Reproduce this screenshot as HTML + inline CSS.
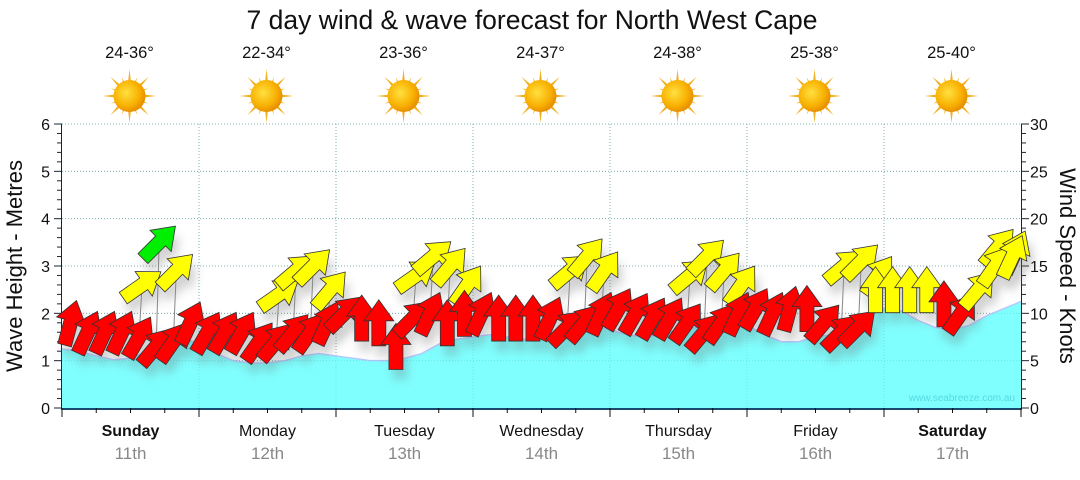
<!DOCTYPE html>
<html><head><meta charset="utf-8">
<style>
body{margin:0;background:#fff;width:1080px;height:475px;overflow:hidden;font-family:"Liberation Sans","DejaVu Sans",sans-serif}
</style></head>
<body>
<svg id="chart" width="1080" height="475" viewBox="0 0 1080 475" xmlns="http://www.w3.org/2000/svg">
<defs>
<radialGradient id="sunG" cx="0.4" cy="0.4" r="0.6"><stop offset="0" stop-color="#ffe040"/><stop offset="0.7" stop-color="#f8b000"/><stop offset="1" stop-color="#e89000"/></radialGradient>
<filter id="shadow" x="-50%" y="-50%" width="200%" height="200%"><feGaussianBlur stdDeviation="5"/></filter>
</defs>
<text x="532" y="29" text-anchor="middle" font-size="26.5" fill="#111">7 day wind &amp; wave forecast for North West Cape</text>
<g id="topG"></g>
<g id="grid"></g>
<g id="wave"></g>
<g id="axes"></g>
<g id="shadows" opacity="0.3"></g>
<g id="arrows"></g>
<text x="1015" y="401" text-anchor="end" font-size="10" fill="#55d8e0">www.seabreeze.com.au</text>
<text transform="translate(22,266) rotate(-90)" text-anchor="middle" font-size="22" fill="#111">Wave Height - Metres</text>
<text transform="translate(1060,266) rotate(90)" text-anchor="middle" font-size="22" fill="#111">Wind Speed - Knots</text>
</svg>
<script>
const days = ["Sunday","Monday","Tuesday","Wednesday","Thursday","Friday","Saturday"];
const dates = ["11th","12th","13th","14th","15th","16th","17th"];
const temps = ["24-36°","22-34°","23-36°","24-37°","24-38°","25-38°","25-40°"];
const waveTicks = [0,1,2,3,4,5,6];
const windTicks = [0,5,10,15,20,25,30];
const waveHeights = [1.25,1.2,1.1,1.02,1.05,1.2,1.35,1.5,1.35,1.15,1.0,0.95,0.95,1.0,1.1,1.15,1.1,1.05,1.0,1.0,1.05,1.15,1.35,1.45,1.5,1.55,1.5,1.45,1.45,1.55,1.65,1.75,1.65,1.55,1.5,1.55,1.65,1.7,1.75,1.7,1.75,1.55,1.4,1.4,1.5,1.55,1.75,1.95,2.1,2.05,1.85,1.7,1.65,1.75,1.95,2.1,2.25];
const windSpeeds = [9,8,8,8,7.5,6.5,7,9, 8,8,8,7,7,8,8,9, 10,9.5,9,6.5,9.5,10,9,10, 10,9.5,9.5,9.5,9.5,8.5,9,10, 10.5,10,9.5,9.5,9,8,9,10, 10.5,10,10.5,10.5,9,8,8.5,12.5, 12.5,12.5,12.5,11,10,12.5,15,16];
const windDirs = [15,25,25,25,30,40,35,25, 30,30,30,35,40,40,35,25, 45,0,0,0,45,25,0,0, 25,0,0,0,25,45,40,25, 30,30,30,30,35,40,35,25, 30,25,15,0,40,45,45,0, 0,0,0,0,35,40,35,25];
const gustSpeeds = [null,null,null,null,13,17.5,14.5,null, null,null,null,null,12,14.5,15,12.5, null,null,null,null,14,16,15,13, null,null,null,null,null,14.5,16,14.5, null,null,null,null,14,16,14.5,13, null,null,null,null,null,15,15.5,14, null,null,null,null,null,null,17,16.5];
const gustDirs = [null,null,null,null,55,45,45,null, null,null,null,null,55,50,45,40, null,null,null,null,55,50,40,35, null,null,null,null,null,50,40,35, null,null,null,null,50,45,40,35, null,null,null,null,null,50,45,35, null,null,null,null,null,null,40,25];

const NS="http://www.w3.org/2000/svg";
const X0=62,X1=1021,Y0=408,YT=124;
const dayW=(X1-X0)/7;
const yWave=v=>Y0-(Y0-YT)*v/6;
const yWind=v=>Y0-(Y0-YT)*v/30;
const xSlot=i=>X0+(i+0.5)*dayW/8;
const xWave=k=>X0+k*dayW/8;
function el(tag,attrs,parent){const e=document.createElementNS(NS,tag);for(const k in attrs)e.setAttribute(k,attrs[k]);parent.appendChild(e);return e;}
const topG=document.getElementById('topG'),grid=document.getElementById('grid'),wave=document.getElementById('wave'),axes=document.getElementById('axes'),arrows=document.getElementById('arrows'),shadows=document.getElementById('shadows');

temps.forEach((t,i)=>{
  const cx=X0+(i+0.5)*dayW-1;
  const tx=el('text',{x:cx,y:58,'text-anchor':'middle','font-size':'16.5',fill:'#111'},topG);
  tx.textContent=t;
  
  
  const g=el('g',{transform:`translate(${cx},96)`},topG);
  
  
  for(let r=0;r<16;r++){const a=r*22.5;const L=r%2?20:27;
    el('polygon',{points:`-3,0 3,0 0,-${L}`,fill:'#f0b020',transform:`rotate(${a})`},g);}
  el('circle',{r:16,fill:'url(#sunG)'},g);
});

waveTicks.forEach(v=>{if(v>0)el('line',{x1:X0,x2:X1,y1:yWave(v),y2:yWave(v),stroke:'#999','stroke-dasharray':'1,2','stroke-width':1},grid);});
for(let d=1;d<7;d++){const x=X0+d*dayW;el('line',{x1:x,x2:x,y1:YT,y2:Y0,stroke:'#999','stroke-dasharray':'1,2'},grid);}

let pts=waveHeights.map((v,k)=>`${xWave(k)},${yWave(v)}`);
const area=el('polygon',{points:`${X0},${Y0} ${pts.join(' ')} ${X1},${Y0}`,fill:'#80ffff'},wave);


el('polyline',{points:pts.join(' '),fill:'none',stroke:'#b8c8ff','stroke-width':1.5},wave);
for(let d=1;d<7;d++){const x=X0+d*dayW;el('line',{x1:x,x2:x,y1:YT,y2:Y0,stroke:'#60c8d0','stroke-dasharray':'1,2','stroke-opacity':0.5},wave);}
waveTicks.forEach(v=>{if(v>0)el('line',{x1:X0,x2:X1,y1:yWave(v),y2:yWave(v),stroke:'#60c8d0','stroke-dasharray':'1,2','stroke-opacity':0.5},wave);});

el('line',{x1:X0-0.5,x2:X0-0.5,y1:YT,y2:Y0,stroke:'#223'},axes);
el('line',{x1:X1+0.5,x2:X1+0.5,y1:YT,y2:Y0,stroke:'#223'},axes);
el('line',{x1:X0-1,x2:X1+1,y1:Y0+1,y2:Y0+1,stroke:'#1a4a70','stroke-width':2},axes);
for(let i=0;i<=30;i++){const y=Y0-(Y0-YT)*i/30;el('line',{x1:X0-(i%5?5:8),x2:X0,y1:y,y2:y,stroke:'#223'},axes);el('line',{x1:X1,x2:X1+(i%5?5:8),y1:y,y2:y,stroke:'#223'},axes);}
waveTicks.forEach(v=>{const t=el('text',{x:50,y:yWave(v)+6,'text-anchor':'end','font-size':'16',fill:'#111'},axes);t.textContent=v;
  });
windTicks.forEach(v=>{const t=el('text',{x:1030,y:yWind(v)+6,'font-size':'16',fill:'#111'},axes);t.textContent=v;
  });
for(let k=0;k<=28;k++){const x=X0+k*dayW/4;el('line',{x1:x,x2:x,y1:Y0,y2:Y0+(k%4?5:9),stroke:'#111'},axes);}
days.forEach((d,i)=>{const cx=X0+(i+0.5)*dayW;const bold=(i==0||i==6);
  const t=el('text',{x:cx,y:436,'text-anchor':'middle','font-size':'16','font-weight':bold?'bold':'normal',fill:'#111'},axes);t.textContent=d;
  
  const t2=el('text',{x:cx,y:459,'text-anchor':'middle','font-size':'17',fill:'#888'},axes);t2.textContent=dates[i];
  });

const shape="M-7,23 L-7,-2 L-15,-2 L0,-23 L15,-2 L7,-2 L7,23 Z";
const colorFor=v=>v>=17.5?'#00ee00':(v>=12?'#ffff00':'#ff0000');
function arrow(x,y,dir,v,name){
  el('path',{d:shape,fill:'#666',transform:`translate(${x+4},${y+10}) rotate(${dir})`,filter:'url(#shadow)'},shadows);
  const p=el('path',{d:shape,fill:colorFor(v),stroke:'#333','stroke-width':0.8,transform:`translate(${x},${y}) rotate(${dir})`},arrows);
  
  
}
windSpeeds.forEach((v,i)=>{const g=gustSpeeds[i];if(g!=null)el('line',{x1:xSlot(i),y1:yWind(v),x2:xSlot(i)+3,y2:yWind(g),stroke:'#888'},arrows);});
gustSpeeds.forEach((g,i)=>{if(g!=null)arrow(xSlot(i)+3,yWind(g),gustDirs[i],g,'wind-gust-arrow');});
windSpeeds.forEach((v,i)=>arrow(xSlot(i),yWind(v),windDirs[i],v,'wind-arrow'));
</script>
</body></html>
